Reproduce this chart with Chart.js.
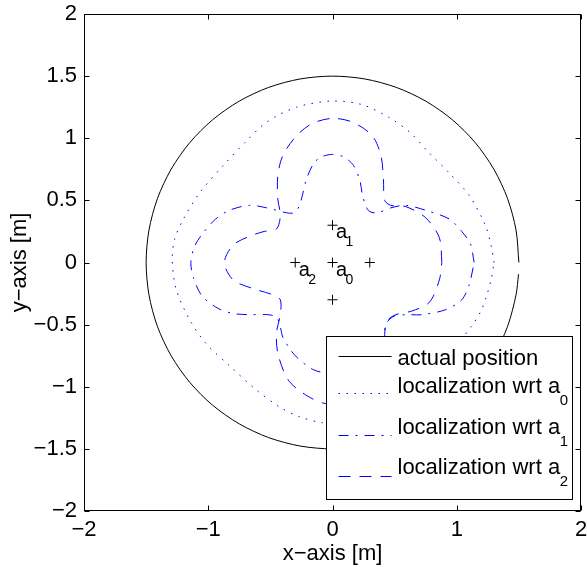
<!DOCTYPE html>
<html><head><meta charset="utf-8">
<script src="https://cdn.jsdelivr.net/npm/chart.js@4/dist/chart.umd.min.js"></script>
<style>html,body{margin:0;padding:0;background:#fff;}canvas{display:block;}</style>
</head><body>
<canvas id="c" width="587" height="567"></canvas>
<script>
// ---------- data ----------
const xTicks = [-2, -1, 0, 1, 2];
const yTicks = [-2, -1.5, -1, -0.5, 0, 0.5, 1, 1.5, 2];

// actual position (circle of radius 1.5)
const actualX = [1.5,1.4772,1.4095,1.299,1.1491,0.9642,0.75,0.513,0.2605,0,-0.2605,-0.513,-0.75,-0.9642,-1.1491,-1.299,-1.4095,-1.4772,-1.5,-1.4772,-1.4095,-1.299,-1.1491,-0.9642,-0.75,-0.513,-0.2605,0,0.2605,0.513,0.75,0.9642,1.1491,1.299,1.4095,1.4772,1.497];
const actualY = [0,0.2605,0.513,0.75,0.9642,1.1491,1.299,1.4095,1.4772,1.5,1.4772,1.4095,1.299,1.1491,0.9642,0.75,0.513,0.2605,0,-0.2605,-0.513,-0.75,-0.9642,-1.1491,-1.299,-1.4095,-1.4772,-1.5,-1.4772,-1.4095,-1.299,-1.1491,-0.9642,-0.75,-0.513,-0.2605,-0.094];

// localization wrt a0 (dotted)
const a0X = [1.30,1.28,1.23,1.10,0.94,0.78,0.62,0.45,0.24,0,-0.29,-0.53,-0.70,-0.88,-1.07,-1.20,-1.27,-1.29,-1.26,-1.15,-1.02,-0.83,-0.62,-0.43,-0.27,-0.08,0.08,0.27,0.43,0.62,0.83,1.00,1.12,1.19,1.24,1.28,1.30];
const a0Y = [0,0.12,0.30,0.54,0.72,0.88,1.05,1.17,1.27,1.30,1.25,1.13,0.97,0.78,0.56,0.35,0.19,0.03,-0.21,-0.46,-0.65,-0.83,-1.02,-1.16,-1.24,-1.29,-1.29,-1.24,-1.16,-1.02,-0.83,-0.66,-0.51,-0.40,-0.27,-0.12,0];

// localization wrt a1 (dash-dot)
const a1X = [1.14,1.11,1.04,0.94,0.75,0.59,0.47,0.36,0.30,0.27,0.24,0.22,0.17,0.09,0,-0.09,-0.15,-0.21,-0.24,-0.27,-0.31,-0.37,-0.53,-0.67,-0.83,-0.94,-1.04,-1.11,-1.14,-1.12,-1.05,-0.92,-0.80,-0.67,-0.52,-0.45,-0.42,-0.40,-0.34,-0.29,-0.16,-0.05,0.05,0.16,0.29,0.36,0.41,0.44,0.50,0.60,0.72,0.91,1.04,1.10,1.14];
const a1Y = [0,0.15,0.25,0.35,0.42,0.46,0.44,0.40,0.41,0.45,0.55,0.66,0.78,0.85,0.87,0.85,0.80,0.67,0.55,0.45,0.40,0.40,0.44,0.46,0.42,0.35,0.24,0.13,0,-0.12,-0.27,-0.37,-0.41,-0.42,-0.42,-0.44,-0.52,-0.60,-0.70,-0.76,-0.86,-0.89,-0.89,-0.86,-0.76,-0.68,-0.58,-0.48,-0.43,-0.42,-0.42,-0.38,-0.30,-0.18,0];

// localization wrt a2 (dashed)
const a2X = [0.88,0.86,0.75,0.59,0.47,0.42,0.41,0.39,0.32,0.16,0,-0.16,-0.29,-0.40,-0.44,-0.44,-0.42,-0.45,-0.55,-0.67,-0.80,-0.87,-0.80,-0.64,-0.48,-0.42,-0.42,-0.45,-0.44,-0.36,-0.24,-0.08,0.08,0.24,0.36,0.43,0.42,0.44,0.51,0.64,0.78,0.86,0.88];
const a2Y = [0,0.20,0.36,0.45,0.46,0.50,0.67,0.86,1.02,1.13,1.16,1.12,1.02,0.86,0.70,0.51,0.38,0.27,0.25,0.21,0.14,0,-0.14,-0.21,-0.26,-0.30,-0.42,-0.56,-0.73,-0.94,-1.05,-1.13,-1.13,-1.05,-0.94,-0.75,-0.58,-0.47,-0.42,-0.39,-0.32,-0.14,0];

// anchors
const anchorX = [0, -0.3, 0, 0.3, 0];
const anchorY = [0.3, 0, 0, 0, -0.3];
const anchorLabel = ['a', 'a', 'a', '', ''];
const anchorSub = ['1', '2', '0', '', ''];

const legendNames = ['actual position', 'localization wrt a', 'localization wrt a', 'localization wrt a'];
const legendSubs = ['', '0', '1', '2'];

// ---------- styles ----------
const FONT = "'Liberation Sans', Arial, Helvetica, sans-serif";
const BLUE = 'rgb(0,0,255)';
const dashes = [[], [1.5, 6.5], [10, 7, 2, 7], [12, 9]];
const colors = ['#000', BLUE, BLUE, BLUE];

const pts = (xs, ys) => xs.map((x, i) => ({x: x, y: ys[i]}));
const minus = v => String(v).replace('-', '\u2212');

const lineDs = (xs, ys, i) => ({
  data: pts(xs, ys), showLine: true, pointRadius: 0, borderWidth: 1,
  borderColor: colors[i], borderDash: dashes[i], tension: 0.3, fill: false
});

const decor = {
  id: 'decor',
  afterDraw(chart) {
    const ctx = chart.ctx, a = chart.chartArea;
    const xs = chart.scales.x, ys = chart.scales.y;
    ctx.save();
    // anchor labels
    ctx.fillStyle = '#000';
    ctx.textBaseline = 'alphabetic';
    ctx.textAlign = 'left';
    anchorX.forEach((x, i) => {
      if (!anchorLabel[i]) return;
      const px = xs.getPixelForValue(x), py = ys.getPixelForValue(anchorY[i]);
      ctx.font = '20px ' + FONT;
      ctx.fillText(anchorLabel[i], px + 3.5, py + 13);
      ctx.font = '14px ' + FONT;
      ctx.fillText(anchorSub[i], px + 13, py + 21);
    });
    // axes box
    ctx.strokeStyle = '#000';
    ctx.lineWidth = 1;
    ctx.setLineDash([]);
    const L = Math.round(a.left) + 0.5, R = Math.round(a.right) - 0.5;
    const T = Math.round(a.top) + 0.5, B = Math.round(a.bottom) - 0.5;
    ctx.strokeRect(L, T, R - L, B - T);
    const tl = 5;
    ctx.beginPath();
    xTicks.forEach(v => {
      const p = Math.round(xs.getPixelForValue(v)) + 0.5;
      ctx.moveTo(p, B); ctx.lineTo(p, B - tl);
      ctx.moveTo(p, T); ctx.lineTo(p, T + tl);
    });
    yTicks.forEach(v => {
      const p = Math.round(ys.getPixelForValue(v)) + 0.5;
      ctx.moveTo(L, p); ctx.lineTo(L + tl, p);
      ctx.moveTo(R, p); ctx.lineTo(R - tl, p);
    });
    ctx.stroke();
    // legend box
    const lr = Math.round(a.right) - 8.5, lb = Math.round(a.bottom) - 11.5;
    const lw = 246, lh = 163;
    const ll = lr - lw, lt = lb - lh;
    ctx.fillStyle = '#fff';
    ctx.fillRect(ll, lt, lw, lh);
    ctx.strokeRect(ll, lt, lw, lh);
    const sampleY = [19, 56.5, 98, 139.5];
    const textY = [28, 56, 97, 137];
    legendNames.forEach((name, i) => {
      ctx.strokeStyle = colors[i];
      ctx.setLineDash(dashes[i]);
      ctx.beginPath();
      const sy = Math.round(lt + sampleY[i]) + 0.5;
      ctx.moveTo(ll + 12, sy); ctx.lineTo(ll + 65, sy);
      ctx.stroke();
      ctx.fillStyle = '#000';
      ctx.font = '22px ' + FONT;
      ctx.fillText(name, ll + 71, lt + textY[i]);
      if (legendSubs[i]) {
        const w = ctx.measureText(name).width;
        ctx.font = '15px ' + FONT;
        ctx.fillText(legendSubs[i], ll + 71 + w - 0.5, lt + textY[i] + 12);
      }
    });
    ctx.restore();
  }
};

new Chart(document.getElementById('c').getContext('2d'), {
  type: 'scatter',
  data: {
    datasets: [
      lineDs(actualX, actualY, 0),
      lineDs(a0X, a0Y, 1),
      lineDs(a1X, a1Y, 2),
      lineDs(a2X, a2Y, 3),
      {
        data: pts(anchorX, anchorY), showLine: false, pointStyle: 'cross',
        pointRadius: 5, pointBorderWidth: 1, borderColor: '#000', backgroundColor: '#000'
      }
    ]
  },
  options: {
    responsive: false, animation: false, devicePixelRatio: 1,
    layout: {padding: {top: 14, right: 5, left: 0, bottom: 0}},
    plugins: {legend: {display: false}, tooltip: {enabled: false}},
    scales: {
      x: {
        type: 'linear', min: -2, max: 2,
        afterBuildTicks: s => { s.ticks = xTicks.map(v => ({value: v})); },
        afterFit: s => { s.height = 56; s.paddingLeft = 0; s.paddingRight = 0; },
        grid: {display: false, drawTicks: false}, border: {display: false},
        ticks: {padding: 6, color: '#000', font: {size: 22, family: FONT}, callback: v => minus(v), maxRotation: 0, autoSkip: false},
        title: {display: true, text: 'x\u2212axis [m]', color: '#000', font: {size: 22, family: FONT}, padding: {top: 0, bottom: 0}}
      },
      y: {
        type: 'linear', min: -2, max: 2,
        afterBuildTicks: s => { s.ticks = yTicks.map(v => ({value: v})); },
        afterFit: s => { s.width = 84; s.paddingTop = 0; s.paddingBottom = 0; },
        grid: {display: false, drawTicks: false}, border: {display: false},
        ticks: {padding: 7, color: '#000', font: {size: 22, family: FONT}, callback: v => minus(v), autoSkip: false},
        title: {display: true, text: 'y\u2212axis [m]', color: '#000', font: {size: 22, family: FONT}, padding: {top: 7, bottom: 0}}
      }
    }
  },
  plugins: [decor]
});
</script>
</body></html>
